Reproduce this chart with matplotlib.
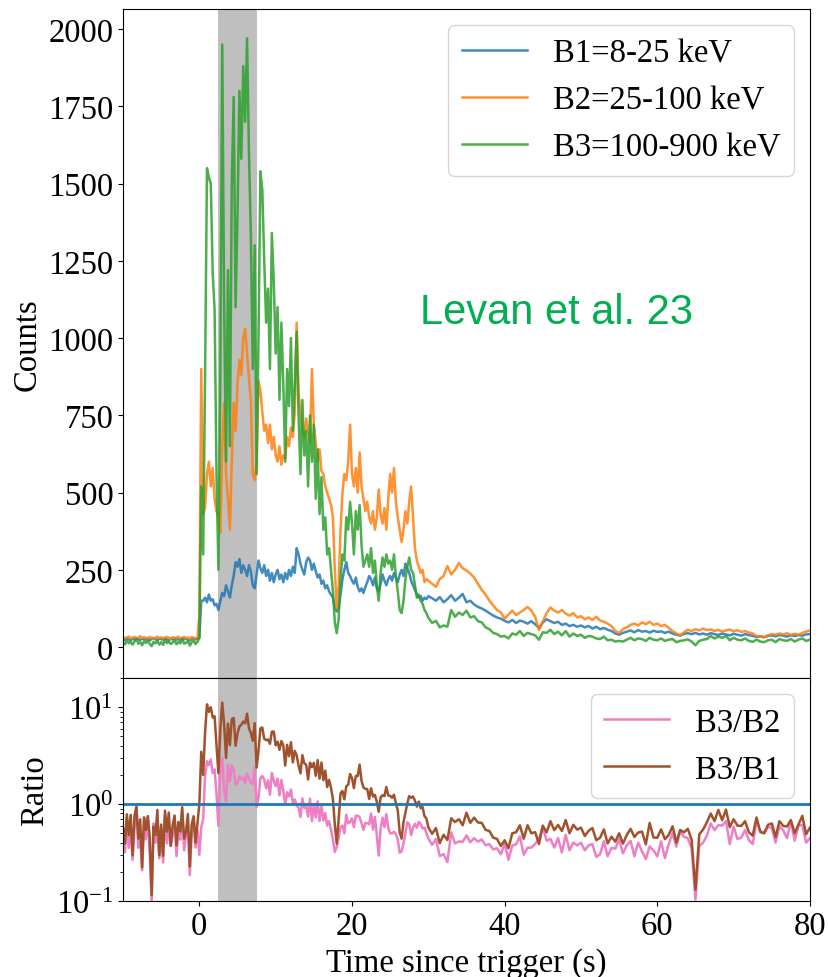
import numpy as np
import matplotlib
matplotlib.use("Agg")
import matplotlib.pyplot as plt

# ---- light curve, three energy bands (counts per bin) ----
# time grids: 0.25 s up to 30 s after trigger, 0.5 s in the tail
t_pre = np.arange(-10, 0, 0.25)
t_burst = np.arange(0, 30, 0.25)
t_tail = np.arange(30, 80.01, 0.5)

b1_pre = [26, 23, 28, 25, 22, 27, 24, 29, 25, 23, 27, 26, 24, 28, 22, 26, 29, 25, 23, 27,
          26, 24, 28, 25, 22, 27, 25, 29, 24, 26, 23, 28, 25, 27, 24, 22, 26, 28, 25, 27]
b2_pre = [32, 28, 31, 34, 29, 30, 33, 27, 31, 35, 29, 32, 30, 28, 33, 31, 27, 30, 34, 29,
          32, 28, 31, 33, 30, 27, 32, 29, 31, 34, 28, 30, 33, 29, 31, 27, 32, 30, 28, 31]
b3_pre = [15, 9, 22, 12, 17, 8, 18, 27, 11, 16, 6, 19, 13, 21, 10, 3, 17, 12, 20, 8,
          16, 7, 24, 13, 18, 10, 15, 22, 9, 17, 12, 26, 11, 14, 19, 5, 16, 21, 10, 17]

b1_burst = [
    30, 150, 150, 160, 145, 170, 150, 155,
    135, 140, 120, 150, 175, 165, 200, 180,
    160, 200, 230, 275, 260, 285, 240, 265,
    250, 230, 265, 245, 200, 190, 235, 280,
    255, 240, 265, 230, 250, 215, 240, 210,
    235, 250, 220, 235, 210, 240, 220, 250,
    230, 260, 240, 320, 300, 270, 250, 235,
    275, 290, 280, 250, 270, 245, 225, 235,
    205, 215, 190, 200, 180, 170, 160, 130,
    115, 130, 170, 220, 250, 275, 240, 230,
    215, 205, 225, 195, 180, 190, 175, 195,
    210, 230, 220, 200, 225, 190, 180, 205,
    235, 215, 200, 220, 230, 215, 240, 225,
    210, 235, 250, 230, 270, 255, 240, 215,
    200, 185, 170, 160, 165, 150, 160, 155,
]
b2_burst = [
    100, 900, 430, 450, 560, 600, 520, 580,
    480, 440, 420, 370, 650, 790, 560, 480,
    380, 600, 790, 700, 850, 930, 880, 1000,
    1030, 950, 870, 800, 560, 540, 600, 860,
    830, 760, 700, 720, 660, 720, 640, 680,
    620, 600, 650, 590, 620, 610, 680, 650,
    710, 680, 760, 1050, 820, 760, 700, 680,
    740, 700, 660, 900, 720, 660, 600, 640,
    570, 560, 520, 500, 480, 460, 420, 250,
    125, 200, 380, 500, 560, 540, 600, 720,
    560, 520, 580, 500, 630, 520, 480, 440,
    470, 420, 400, 440, 380, 420, 510, 430,
    400, 450, 380, 480, 560, 500, 580, 470,
    420, 380, 340, 380, 440, 400, 470, 520,
    420, 320, 280, 260, 240, 250, 210, 220,
]
b3_burst = [
    30, 520, 300, 880, 1550, 1520, 1500, 1210,
    1090, 560, 250, 900, 1950, 1100, 600, 1220,
    650, 1500, 1780, 1100, 1400, 1800, 1580, 1880,
    1700, 1970, 1600, 1330, 900, 1300, 560, 1000,
    1540, 1480, 1250, 1050, 1160, 900, 1340, 1180,
    950, 1100, 800, 1050, 850, 600, 900, 780,
    1000, 700, 850, 1020, 750, 560, 800, 620,
    700, 520, 750, 600, 720, 480, 640, 430,
    550, 380, 420, 300, 320, 250, 180, 80,
    45, 90, 220, 300, 280, 420, 380, 470,
    400, 300, 440, 380, 460, 330, 260, 280,
    300, 260, 320, 240, 280, 200, 150, 240,
    290, 260, 300, 270, 280, 250, 300, 230,
    180, 120, 110, 150, 220, 260, 290, 250,
    240, 200, 160, 170, 150, 140, 120, 110,
]

b1_tail = [
    165, 158, 150, 162, 145, 155, 168, 150, 160, 172,
    145, 150, 138, 130, 125, 118, 110, 102, 96, 92,
    85, 80, 88, 78, 86, 82, 76, 84, 74, 62,
    80, 90, 84, 78, 82, 72, 76, 68, 72, 66,
    70, 64, 68, 60, 66, 58, 62, 56, 52, 44,
    40, 46, 50, 54, 48, 55, 50, 52, 47, 53,
    49, 51, 46, 50, 44, 40, 37, 43, 45, 42,
    46, 41, 44, 40, 45, 42, 39, 44, 41, 38,
    43, 40, 37, 42, 39, 36, 33, 35, 32, 36,
    38, 35, 39, 37, 34, 38, 36, 39, 37, 41,
    42,
]
b2_tail = [
    215, 205, 195, 220, 230, 262, 235, 250, 272, 255,
    248, 238, 225, 205, 185, 170, 150, 135, 120, 112,
    92, 105, 118, 104, 112, 120, 130, 118, 98, 55,
    82, 110, 128, 118, 112, 120, 108, 102, 110, 96,
    100, 90, 96, 88, 98, 86, 82, 76, 68, 52,
    46, 58, 64, 72, 76, 70, 80, 74, 82, 72,
    76, 68, 72, 62, 52, 44, 38, 48, 56, 52,
    58, 54, 60, 55, 57, 52, 56, 50, 54, 57,
    51, 55, 49, 52, 47, 44, 36, 34, 32, 38,
    42, 40, 44, 41, 45, 39, 43, 40, 46, 50,
    54,
]
b3_tail = [
    95, 78, 85, 64, 70, 66, 120, 98, 112, 104,
    118, 96, 100, 84, 80, 64, 58, 46, 42, 34,
    36, 28, 44, 40, 52, 36, 46, 42, 38, 24,
    48, 46, 56, 42, 50, 38, 52, 34, 44, 36,
    40, 30, 36, 34, 28, 26, 34, 22, 24, 18,
    20, 18, 24, 30, 22, 28, 26, 20, 30, 24,
    22, 28, 20, 24, 26, 16, 20, 22, 25, 18,
    6, 20, 24, 26, 36, 28, 34, 30, 36, 22,
    30, 24, 22, 28, 20, 17, 24, 18, 16, 22,
    24, 16, 26, 22, 20, 26, 18, 24, 28, 20,
    24,
]

band_labels = ["B1=8-25 keV", "B2=25-100 keV", "B3=100-900 keV"]
ratio_labels = ["B3/B2", "B3/B1"]
span = (2.5, 7.5)  # shaded interval (s)

t = np.concatenate([t_pre, t_burst, t_tail])
b1 = np.array(b1_pre + b1_burst + b1_tail, float)
b2 = np.array(b2_pre + b2_burst + b2_tail, float)
b3 = np.array(b3_pre + b3_burst + b3_tail, float)

plt.rcParams["font.family"] = ["Liberation Serif", "DejaVu Serif"]
plt.rcParams["mathtext.fontset"] = "stix"
plt.rcParams["font.size"] = 23.5

fig, (ax, axr) = plt.subplots(2, 1, sharex=True, figsize=(8.29, 9.78), dpi=100,
                              gridspec_kw={"height_ratios": [3, 1], "hspace": 0})
fig.subplots_adjust(left=0.1484, right=0.977, top=0.9898, bottom=0.0777)

ax.axvspan(*span, color="gray", alpha=0.5, lw=0)
for y, lab, c in zip([b1, b2, b3], band_labels, ["C0", "C1", "C2"]):
    ax.plot(t, y, color=c, lw=1.8, alpha=0.85, label=lab)
ax.set_ylabel("Counts")
ax.set_ylim(-100, 2065)
ax.set_yticks([0, 250, 500, 750, 1000, 1250, 1500, 1750, 2000])
ax.legend(loc="upper right")

axr.axvspan(*span, color="gray", alpha=0.5, lw=0)
axr.plot(t, b3 / b2, color="#ef7fc4", lw=1.8, label=ratio_labels[0])
axr.plot(t, b3 / b1, color="#a0522d", lw=1.8, label=ratio_labels[1])
axr.axhline(1.0, color="C0", lw=2)
axr.set_yscale("log")
axr.set_ylim(0.1, 20)
axr.set_xlim(-10, 80)
axr.set_xticks([0, 20, 40, 60, 80])
axr.set_ylabel("Ratio")
axr.set_xlabel("Time since trigger (s)")
axr.legend(loc="upper right")

fig.text(0.671, 0.68, "Levan et al. 23", color="#00b050", fontsize=30,
         family="Liberation Sans", ha="center", va="center")

fig.savefig("out.png", dpi=100)
